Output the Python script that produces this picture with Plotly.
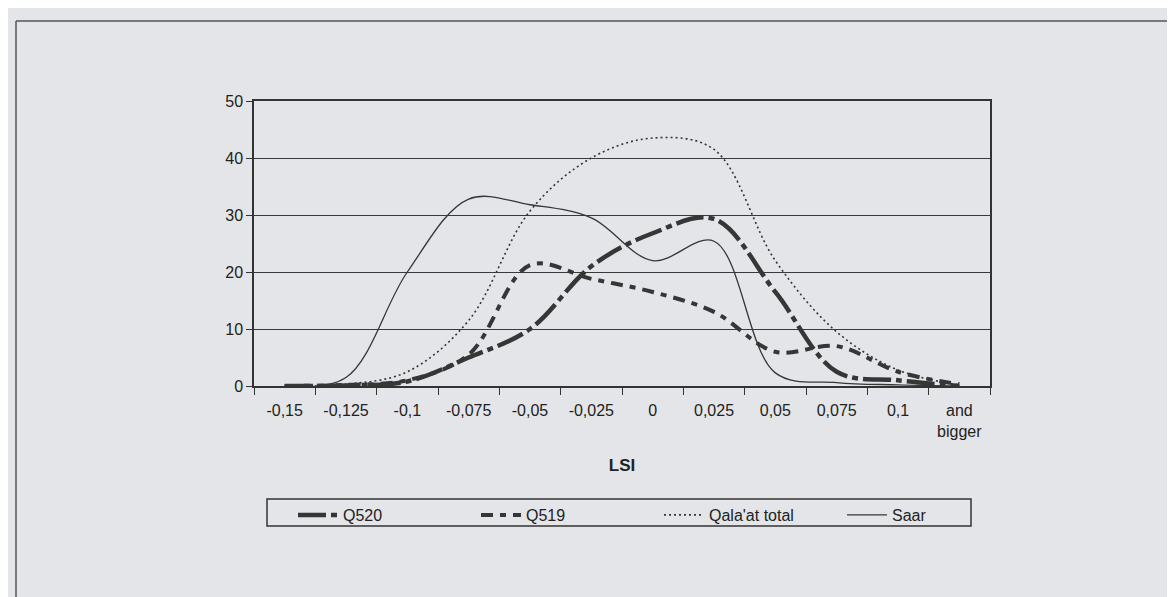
import plotly.graph_objects as go

categories = ["-0,15", "-0,125", "-0,1", "-0,075", "-0,05", "-0,025", "0",
              "0,025", "0,05", "0,075", "0,1", "and<br>bigger"]
q520 = [0, 0.1, 0.8, 5, 10, 21, 26.8, 29.3, 16.5, 2.5, 1, 0]
q519 = [0, 0.2, 1, 5.5, 21.2, 18.8, 16.5, 13, 6, 7, 2.5, 0.3]
qalaat_total = [0, 0.3, 2.5, 11.5, 30.7, 40, 43.5, 41.5, 22, 9.5, 2.8, 0.2]
saar = [0, 1.5, 20, 32.8, 31.8, 29.5, 22, 25.4, 2.3, 0.6, 0.2, 0]
y_ticks = [0, 10, 20, 30, 40, 50]

W, H = 1175, 597
L, R, T, B = 246, 982, 93, 378
pw, ph = R - L, B - T
FONT = "Liberation Sans, Arial, sans-serif"
INK = "#363636"
BG = "#e4e5e8"

def px2x(px):
    return (px - L) / pw

def py2y(py):
    return (B - py) / ph

fig = go.Figure()
fig.add_trace(go.Scatter(x=categories, y=q520, name="Q520", mode="lines",
                         line=dict(color=INK, width=4.5, dash="28px,5px,6px,5px",
                                   shape="spline", smoothing=1)))
fig.add_trace(go.Scatter(x=categories, y=q519, name="Q519", mode="lines",
                         line=dict(color=INK, width=4, dash="12px,7px,6px,7px",
                                   shape="spline", smoothing=1)))
fig.add_trace(go.Scatter(x=categories, y=qalaat_total, name="Qala'at total", mode="lines",
                         line=dict(color=INK, width=1.6, dash="2px,3px",
                                   shape="spline", smoothing=1)))
fig.add_trace(go.Scatter(x=categories, y=saar, name="Saar", mode="lines",
                         line=dict(color=INK, width=1.3, shape="spline", smoothing=1)))

fig.update_layout(
    width=W, height=H,
    margin=dict(l=L, r=W - R, t=T, b=H - B, pad=0),
    paper_bgcolor=BG, plot_bgcolor=BG,
    font=dict(family=FONT, size=16, color="#222"),
    showlegend=True,
    legend=dict(orientation="h", x=px2x(285), y=py2y(490), xanchor="left", yanchor="top",
                bgcolor="rgba(0,0,0,0)", borderwidth=0,
                font=dict(family=FONT, size=16, color="#222"),
                entrywidth=128, entrywidthmode="pixels", itemwidth=40),
    xaxis=dict(type="category", range=[-0.5, 11.5], showgrid=False,
               showline=True, linecolor="#333", linewidth=1.5, mirror=True,
               ticks="outside", tickson="boundaries", ticklen=7, tickwidth=1.3, tickcolor="#333",
               ticklabelstandoff=9,
               tickfont=dict(family=FONT, size=16, color="#222"),
               title=dict(text="<b>LSI</b>", font=dict(family=FONT, size=17, color="#222"), standoff=20),
               fixedrange=True),
    yaxis=dict(range=[0, 50], tickvals=y_ticks, showgrid=True, gridcolor="#3a3a3a", gridwidth=1.4,
               zeroline=False, showline=True, linecolor="#333", linewidth=1.5, mirror=True,
               ticks="outside", ticklen=6, tickwidth=1.3, tickcolor="#333",
               tickfont=dict(family=FONT, size=16, color="#222"), fixedrange=True),
    shapes=[
        dict(type="line", xref="paper", yref="paper", x0=px2x(8), x1=px2x(1185),
             y0=py2y(13), y1=py2y(13), line=dict(color="#555", width=1.5)),
        dict(type="line", xref="paper", yref="paper", x0=px2x(8), x1=px2x(8),
             y0=py2y(13), y1=py2y(605), line=dict(color="#555", width=1.5)),
        dict(type="rect", xref="paper", yref="paper", x0=px2x(259), x1=px2x(963),
             y0=py2y(491), y1=py2y(518), line=dict(color="#333", width=1.5)),
    ],
)

fig.write_html("out.html")
